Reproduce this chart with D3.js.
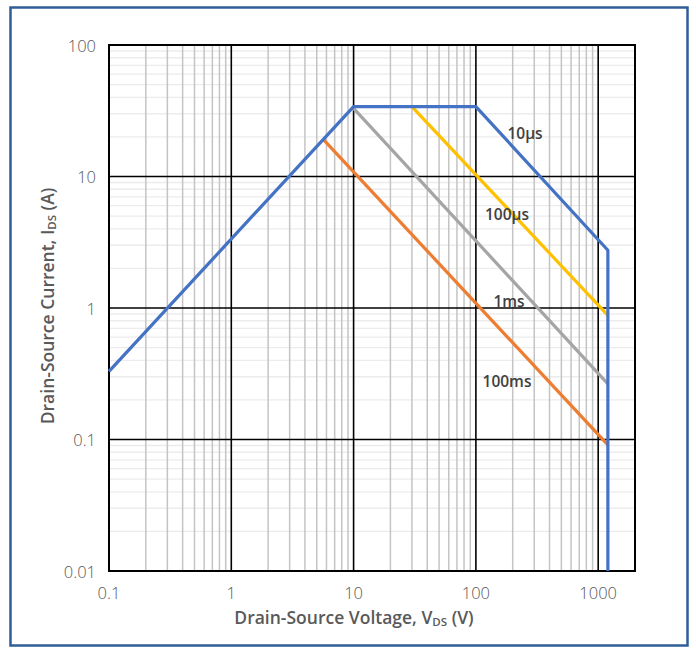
<!DOCTYPE html>
<html><head><meta charset="utf-8">
<script src="https://cdn.jsdelivr.net/npm/d3@7/dist/d3.min.js"></script>
<style>body{margin:0;background:#fff}svg{display:block}</style>
</head><body>
<script>
// Data (V in volts, I in amps)
const seriesNames = ["10µs", "100µs", "1ms", "100ms"];
const colors = ["#4472c4", "#ffc000", "#a5a5a5", "#ed7d31"];
const limit10us = [[0.1, 0.33], [10, 34], [100, 34], [1200, 2.75], [1200, 0.01]];
const limit100us = [[30, 34], [1200, 0.88]];
const limit1ms = [[10, 33], [1200, 0.265]];
const limit100ms = [[5.7, 19], [1200, 0.091]];
const seriesData = [limit10us, limit100us, limit1ms, limit100ms];
const labelPos = [[525, 133], [507, 214], [509, 301], [507, 381]]; // label anchors in px
const xTicks = [0.1, 1, 10, 100, 1000];
const yTicks = [0.01, 0.1, 1, 10, 100];
const xTickLabels = ["0.1", "1", "10", "100", "1000"];
const yTickLabels = ["0.01", "0.1", "1", "10", "100"];

const W = 696, H = 649;
const L = 109, R = 635, T = 45, B = 571;
const svg = d3.select("body").append("svg").attr("width", W).attr("height", H);

// outer frame
svg.append("rect").attr("x", 10.5).attr("y", 7.5).attr("width", 677).attr("height", 638)
  .attr("fill", "#fff").attr("stroke", "#2f5d98").attr("stroke-width", 2.5);

const x = d3.scaleLog().domain([0.1, 2000]).range([L, R]);
const y = d3.scaleLog().domain([0.01, 100]).range([B, T]);

const g = svg.append("g");
const xMinor = [];
for (let d = 0.1; d < 2000; d *= 10) for (let k = 2; k <= 9; k++) if (d * k < 2000) xMinor.push(d * k);
const yMinor = [];
for (let d = 0.01; d < 100; d *= 10) for (let k = 2; k <= 9; k++) yMinor.push(d * k);
g.selectAll(".hmin").data(yMinor).join("line")
  .attr("x1", L).attr("x2", R).attr("y1", d => y(d)).attr("y2", d => y(d))
  .attr("stroke", "#ececec").attr("stroke-width", 1.3);
g.selectAll(".vmin").data(xMinor).join("line")
  .attr("y1", T).attr("y2", B).attr("x1", d => x(d)).attr("x2", d => x(d))
  .attr("stroke", "#c4c4c4").attr("stroke-width", 1.5);
g.selectAll(".hmaj").data(yTicks).join("line")
  .attr("x1", L).attr("x2", R).attr("y1", d => y(d)).attr("y2", d => y(d))
  .attr("stroke", "#000").attr("stroke-width", 1.6);
g.selectAll(".vmaj").data(xTicks).join("line")
  .attr("y1", T).attr("y2", B).attr("x1", d => x(d)).attr("x2", d => x(d))
  .attr("stroke", "#000").attr("stroke-width", 1.6);
svg.append("rect").attr("x", L).attr("y", T).attr("width", R - L).attr("height", B - T)
  .attr("fill", "none").attr("stroke", "#000").attr("stroke-width", 2);

const line = d3.line().x(d => x(d[0])).y(d => y(d[1]));
[3, 2, 1, 0].forEach(i => {
  svg.append("path").datum(seriesData[i]).attr("d", line)
    .attr("fill", "none").attr("stroke", colors[i]).attr("stroke-width", 3.2)
    .attr("stroke-linejoin", "round");
});

const font = "'Open Sans', 'Liberation Sans', sans-serif";
svg.selectAll(".lab").data(seriesNames).join("text")
  .attr("x", (d, i) => labelPos[i][0]).attr("y", (d, i) => labelPos[i][1])
  .attr("text-anchor", "middle").attr("dominant-baseline", "central")
  .attr("font-family", font)
  .attr("font-size", 15.5).attr("font-weight", 600).attr("fill", "#404040")
  .text(d => d);

svg.selectAll(".xt").data(xTicks).join("text")
  .attr("x", d => x(d)).attr("y", 592).attr("text-anchor", "middle")
  .attr("dominant-baseline", "central").attr("font-family", font)
  .attr("font-size", 16.5).attr("font-weight", 300).attr("fill", "#595959")
  .text((d, i) => xTickLabels[i]);
svg.selectAll(".yt").data(yTicks).join("text")
  .attr("x", 96).attr("y", d => y(d)).attr("text-anchor", "end")
  .attr("dominant-baseline", "central").attr("font-family", font)
  .attr("font-size", 16.5).attr("font-weight", 300).attr("fill", "#595959")
  .text((d, i) => yTickLabels[i]);

const xt = svg.append("text").attr("x", 354).attr("y", 617).attr("text-anchor", "middle")
  .attr("dominant-baseline", "central").attr("font-family", font)
  .attr("font-size", 17.5).attr("font-weight", 600).attr("fill", "#595959");
xt.append("tspan").text("Drain-Source Voltage, V");
xt.append("tspan").attr("font-size", 11.5).attr("dy", 4).text("DS");
xt.append("tspan").attr("dy", -4).text(" (V)");

const yt = svg.append("text").attr("transform", "translate(47,306) rotate(-90)")
  .attr("text-anchor", "middle").attr("dominant-baseline", "central")
  .attr("font-family", font).attr("font-size", 17.5).attr("font-weight", 600).attr("fill", "#595959");
yt.append("tspan").text("Drain-Source Current, I");
yt.append("tspan").attr("font-size", 11.5).attr("dy", 4).text("DS");
yt.append("tspan").attr("dy", -4).text(" (A)");
</script>
</body></html>
